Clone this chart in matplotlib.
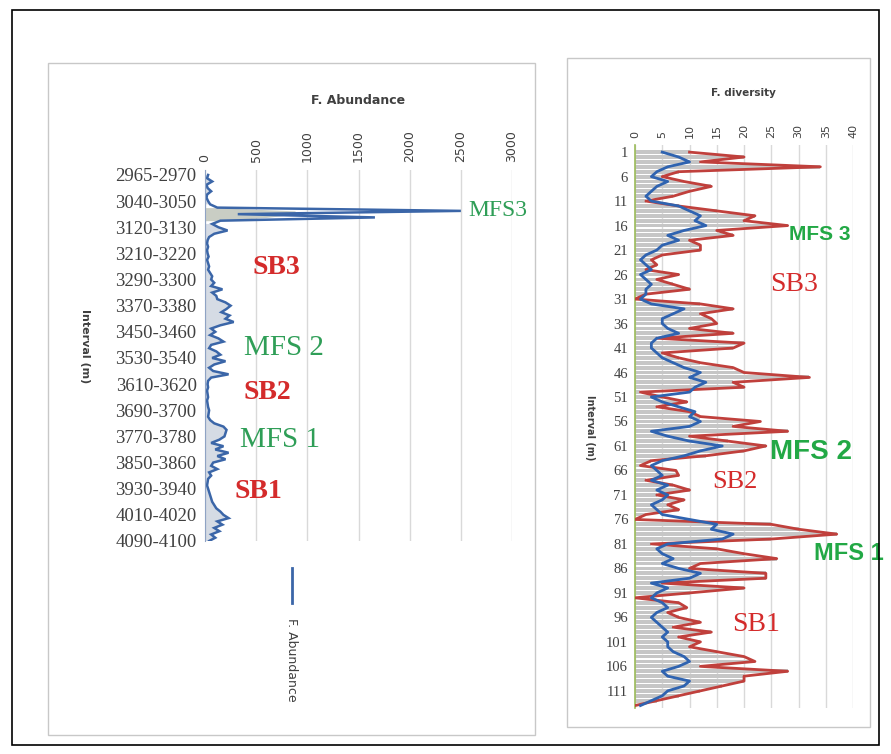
import numpy as np
import matplotlib
matplotlib.use("Agg")
import matplotlib.pyplot as plt
from matplotlib.patches import Rectangle
from matplotlib.lines import Line2D

# --- left panel data: foraminifera abundance per depth interval (113 intervals) ---
first_labels = ["2965-2970", "3040-3050", "3120-3130", "3210-3220", "3290-3300",
                "3370-3380", "3450-3460", "3530-3540", "3610-3620", "3690-3700",
                "3770-3780", "3850-3860", "3930-3940", "4010-4020", "4090-4100"]
abundance = [30, 20, 70, 15, 25, 60, 20, 15, 30, 50,
             120, 2500, 320, 1660, 150, 70, 130, 220, 90, 40,
             25, 20, 30, 20, 25, 35, 20, 30, 40, 30,
             50, 70, 60, 90, 60, 170, 70, 110, 120, 200,
             250, 210, 160, 240, 200, 280, 150, 60, 100, 50,
             130, 180, 60, 40, 110, 150, 70, 200, 90, 40,
             80, 230, 60, 30, 25, 30, 20, 25, 30, 20,
             25, 30, 40, 35, 30, 50, 90, 180, 210, 200,
             190, 140, 60, 180, 100, 230, 120, 200, 80, 60,
             120, 40, 60, 30, 25, 20, 30, 40, 50, 60,
             70, 90, 110, 150, 180, 230, 120, 170, 90, 140,
             60, 100, 40]
spike_rows = [10, 11, 12, 13, 14]
spike_shade = [100, 880, 880, 600, 150]
abund_ticks = [0, 500, 1000, 1500, 2000, 2500, 3000]

# --- right panel data: foraminifera diversity per sample (114 samples) ---
div_red = [10, 20, 12, 34, 8, 5, 9, 14, 10, 7,
           2, 8, 15, 22, 20, 28, 15, 18, 10, 12,
           12, 5, 3, 4, 2, 8, 4, 7, 10, 2,
           0, 12, 18, 12, 14, 15, 10, 18, 4, 20,
           18, 5, 8, 12, 18, 20, 32, 18, 20, 1,
           5, 9.5, 4, 10, 12, 23, 18, 28, 10, 17,
           24, 20, 13, 3, 1, 7.5, 8, 2, 7, 10,
           4, 9, 6, 8, 2, 0, 25, 30, 37, 25,
           3, 15, 20, 26, 12, 10, 24, 24, 5, 20,
           10, 0, 8, 9.5, 6, 8, 12, 7, 14, 8,
           12, 10, 15, 20, 22, 12, 28, 20, 20, 16,
           12, 8, 4, 0]
div_blue = [5, 8, 10, 6, 4, 3, 6, 4, 3, 2,
            3, 8, 10, 12, 11, 13, 9, 6, 8, 5,
            4, 2, 1, 2, 3, 1, 2, 3, 2, 2,
            1, 3, 9, 7, 5, 5, 6, 8, 4, 3,
            3, 4, 5, 7, 9, 12, 10, 13, 11, 10,
            3, 5, 8, 11, 10, 12, 10, 3, 6, 10,
            16, 12, 9, 5, 3, 4, 5, 3, 6, 4,
            6, 5, 3, 4, 5, 10, 15, 14, 18, 16,
            6, 4, 5, 7, 5, 8, 12, 10, 3, 6,
            4, 3, 5, 6, 4, 3, 4, 5, 6, 5,
            6, 6, 7, 9, 10, 8, 5, 6, 10, 9,
            6, 5, 3, 1]
div_ticks = [0, 5, 10, 15, 20, 25, 30, 35, 40]

green = "#2f9e57"
red = "#d42b2b"
grey_txt = "#404040"

fig = plt.figure(figsize=(8.91, 7.54), dpi=100)

# frames
fig.add_artist(Rectangle((0.0135, 0.012), 0.973, 0.975, transform=fig.transFigure,
                         fill=False, edgecolor="black", lw=1.2))
fig.add_artist(Rectangle((0.0539, 0.0252), 0.5466, 0.8912, transform=fig.transFigure,
                         fill=False, edgecolor="#c8c8c8", lw=1))
fig.add_artist(Rectangle((0.6364, 0.0358), 0.3401, 0.8873, transform=fig.transFigure,
                         fill=False, edgecolor="#c8c8c8", lw=1))

# ---------------- left panel ----------------
ax1 = fig.add_axes([0.2301, 0.2825, 0.3446, 0.492])
idx = np.arange(len(abundance))
ab = np.array(abundance, dtype=float)
mask = np.ones(len(ab), dtype=bool)
mask[spike_rows] = False
ax1.fill_betweenx(idx, 0, ab, where=mask, color="#b9c3d3", alpha=0.6, lw=0)
ax1.fill_betweenx(spike_rows, 0, spike_shade, color="#c9cdc4", lw=0)
ax1.plot(ab, idx, color="#3b66a8", lw=1.8, solid_joinstyle="miter")
ax1.set_xlim(0, 3000)
ax1.set_ylim(112, -1.5)
ax1.xaxis.tick_top()
ax1.set_xticks(abund_ticks)
ax1.set_xticklabels([str(t) for t in abund_ticks], rotation=90, fontsize=9, color=grey_txt)
ax1.set_yticks(idx[::8])
ax1.set_yticklabels(first_labels, fontsize=13.5, family="Liberation Serif", color=grey_txt)
ax1.tick_params(length=0, pad=6)
ax1.grid(axis="x", color="#d9d9d9", lw=1)
for s in ["top", "right", "bottom"]:
    ax1.spines[s].set_visible(False)
ax1.spines["left"].set_color("#8fa3c4")
ax1.set_axisbelow(True)
fig.text(0.402, 0.867, "F. Abundance", ha="center", va="center", fontsize=9,
         fontweight="bold", color=grey_txt)
fig.text(0.0954, 0.541, "Interval (m)", rotation=-90, ha="center", va="center",
         fontsize=8, fontweight="bold", color=grey_txt)

ax1.text(2570, 11, "MFS3", color=green, fontsize=17, family="Liberation Serif",
         ha="left", va="center")
ax1.text(694, 28.4, "SB3", color=red, fontsize=20, family="Liberation Serif",
         fontweight="bold", ha="center", va="center")
ax1.text(772, 52.9, "MFS 2", color=green, fontsize=21, family="Liberation Serif",
         ha="center", va="center")
ax1.text(606, 66.7, "SB2", color=red, fontsize=20, family="Liberation Serif",
         fontweight="bold", ha="center", va="center")
ax1.text(733, 81, "MFS 1", color=green, fontsize=21, family="Liberation Serif",
         ha="center", va="center")
ax1.text(518, 97, "SB1", color=red, fontsize=20, family="Liberation Serif",
         fontweight="bold", ha="center", va="center")

# legend drawn vertically under the chart
fig.add_artist(Line2D([292 / 891, 292 / 891], [1 - 568 / 754, 1 - 603 / 754],
                      transform=fig.transFigure, color="#3b66a8", lw=2))
fig.text(292 / 891, 1 - 660 / 754, "F. Abundance", rotation=-90, ha="center",
         va="center", fontsize=9, color=grey_txt)

# ---------------- right panel ----------------
ax2 = fig.add_axes([0.7127, 0.061, 0.2447, 0.747])
k = np.arange(1, len(div_red) + 1)
ax2.barh(k, div_red, height=0.78, color="#c6c6c6", lw=0, zorder=2)
ax2.plot(div_red, k, color="#c0403c", lw=2.0, zorder=3)
ax2.plot(div_blue, k, color="#2f63b0", lw=2.0, zorder=4)
ax2.set_xlim(0, 40)
ax2.set_ylim(114.5, -0.5)
ax2.xaxis.tick_top()
ax2.set_xticks(div_ticks)
ax2.set_xticklabels([str(t) for t in div_ticks], rotation=90, fontsize=8, color=grey_txt)
ax2.set_yticks(k[::5])
ax2.set_yticklabels([str(v) for v in k[::5]], fontsize=10.5, family="Liberation Serif",
                    color=grey_txt)
ax2.tick_params(length=0, pad=5)
ax2.grid(axis="x", color="#d9d9d9", lw=1, zorder=0)
ax2.set_axisbelow(True)
for s in ["top", "right", "bottom"]:
    ax2.spines[s].set_visible(False)
ax2.spines["left"].set_color("#9bbb59")
ax2.spines["left"].set_linewidth(1.2)
fig.text(743 / 891, 1 - 93 / 754, "F. diversity", ha="center", va="center", fontsize=7.5,
         fontweight="bold", color=grey_txt)
fig.text(590 / 891, 1 - 428 / 754, "Interval (m)", rotation=-90, ha="center", va="center",
         fontsize=7, fontweight="bold", color=grey_txt)

ax2.text(33.9, 17.9, "MFS 3", color="#22a845", fontsize=15, family="Liberation Sans",
         fontweight="bold", ha="center", va="center")
ax2.text(29.2, 28.1, "SB3", color=red, fontsize=20, family="Liberation Serif",
         ha="center", va="center")
ax2.text(32.3, 62.2, "MFS 2", color="#22a845", fontsize=20, family="Liberation Sans",
         fontweight="bold", ha="center", va="center")
ax2.text(18.3, 68.3, "SB2", color=red, fontsize=19, family="Liberation Serif",
         ha="center", va="center")
ax2.text(39.3, 83, "MFS 1", color="#22a845", fontsize=17, family="Liberation Sans",
         fontweight="bold", ha="center", va="center")
ax2.text(22.2, 97.5, "SB1", color=red, fontsize=20, family="Liberation Serif",
         ha="center", va="center")

fig.savefig("out.png", dpi=100)
